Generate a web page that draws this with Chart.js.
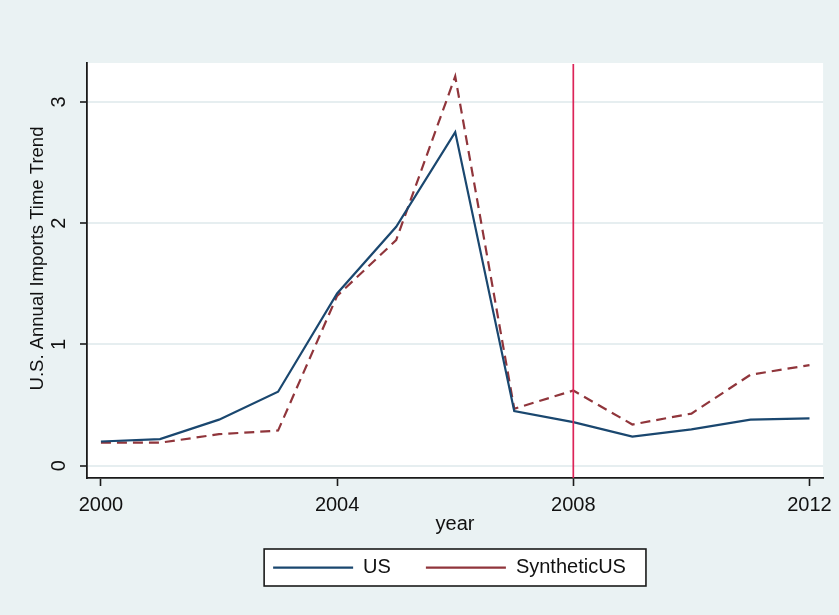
<!DOCTYPE html>
<html>
<head>
<meta charset="utf-8">
<script src="https://cdn.jsdelivr.net/npm/chart.js@4/dist/chart.umd.min.js"></script>
<style>
  html, body { margin: 0; padding: 0; background: #eaf2f3; }
  #wrap { width: 839px; height: 615px; }
</style>
</head>
<body>
<div id="wrap"><canvas id="c" width="839" height="615"></canvas></div>
<script>
// ---- data ----
const years = [2000, 2001, 2002, 2003, 2004, 2005, 2006, 2007, 2008, 2009, 2010, 2011, 2012];
const usValues = [0.20, 0.22, 0.38, 0.61, 1.42, 1.97, 2.75, 0.45, 0.36, 0.24, 0.30, 0.38, 0.39];
const syntheticValues = [0.19, 0.19, 0.26, 0.29, 1.40, 1.86, 3.21, 0.47, 0.62, 0.34, 0.43, 0.75, 0.83];
const seriesNames = ['US', 'SyntheticUS'];
const xTickValues = [2000, 2004, 2008, 2012];
const yTickValues = [0, 1, 2, 3];
const treatmentYear = 2008;
const xTitle = 'year';
const yTitle = 'U.S. Annual Imports Time Trend';

const FONT = "'Liberation Sans', Arial, sans-serif";
const TEXT = '#111111';
const BG = '#eaf2f3';

const decor = {
  id: 'decor',
  afterLayout(chart) {
    const lg = chart.legend, ca = chart.chartArea;
    if (!lg) return;
    const targetCx = (ca.left + ca.right) / 2 - 5.5;
    const dx = targetCx - (lg.left + lg.right) / 2;
    lg.left += dx; lg.right += dx;
    const p = lg.options.labels.padding;
    const fs = lg.options.labels.font.size;
    const dy = (567.7 - p - fs / 2) - lg.top;
    lg.top += dy; lg.bottom += dy;
  },
  beforeDraw(chart) {
    const ctx = chart.ctx, ca = chart.chartArea;
    ctx.save();
    ctx.fillStyle = BG;
    ctx.fillRect(0, 0, chart.width, chart.height);
    ctx.fillStyle = '#ffffff';
    ctx.fillRect(ca.left, ca.top, ca.right - ca.left, ca.bottom - ca.top);
    const hb = chart.legend && chart.legend.legendHitBoxes;
    if (hb && hb.length) {
      const fs = chart.legend.options.labels.font.size;
      const last = hb[hb.length - 1];
      const l = hb[0].left - 9, r = last.left + last.width + 20;
      const cy = hb[0].top + fs / 2;
      const t = cy - 18.7, b = cy + 18.3;
      ctx.fillStyle = '#ffffff';
      ctx.fillRect(l, t, r - l, b - t);
      ctx.strokeStyle = '#1a1a1a';
      ctx.lineWidth = 1.6;
      ctx.strokeRect(l, t, r - l, b - t);
    }
    ctx.restore();
  },
  afterDatasetsDraw(chart) {
    const ctx = chart.ctx, ca = chart.chartArea;
    const x = chart.scales.x.getPixelForValue(treatmentYear);
    ctx.save();
    ctx.strokeStyle = '#dc2458';
    ctx.lineWidth = 1.7;
    ctx.beginPath();
    ctx.moveTo(x, ca.top + 1);
    ctx.lineTo(x, ca.bottom);
    ctx.stroke();
    ctx.restore();
  },
  afterDraw(chart) {
    // y-axis title, placed where the reference has it (slightly above the axis centre)
    const ctx = chart.ctx, ca = chart.chartArea;
    ctx.save();
    ctx.translate(38, (ca.top + ca.bottom) / 2 - 12);
    ctx.rotate(-Math.PI / 2);
    ctx.fillStyle = TEXT;
    ctx.font = "18.5px " + FONT;
    ctx.textAlign = 'center';
    ctx.textBaseline = 'middle';
    ctx.fillText(yTitle, 0, 0);
    ctx.restore();
  }
};

new Chart(document.getElementById('c'), {
  type: 'line',
  data: {
    datasets: [
      {
        label: seriesNames[0],
        data: years.map((yr, i) => ({ x: yr, y: usValues[i] })),
        borderColor: '#1a476f',
        backgroundColor: '#1a476f',
        borderWidth: 2.2,
        pointRadius: 0,
        tension: 0,
        fill: false
      },
      {
        label: seriesNames[1],
        data: years.map((yr, i) => ({ x: yr, y: syntheticValues[i] })),
        borderColor: '#90353b',
        backgroundColor: '#90353b',
        borderWidth: 2.2,
        borderDash: [10, 6],
        pointRadius: 0,
        tension: 0,
        fill: false
      }
    ]
  },
  options: {
    responsive: false,
    animation: false,
    devicePixelRatio: 1,
    layout: { padding: { top: 63, right: 14, left: 0, bottom: 12 } },
    plugins: {
      tooltip: { enabled: false },
      legend: {
        position: 'bottom',
        align: 'center',
        labels: {
          usePointStyle: true,
          pointStyle: 'line',
          pointStyleWidth: 80,
          padding: 35,
          color: TEXT,
          font: { family: FONT, size: 20 }
        }
      }
    },
    scales: {
      x: {
        type: 'linear',
        min: 1999.764,
        max: 2012.23,
        offset: false,
        afterBuildTicks: (s) => { s.ticks = xTickValues.map(v => ({ value: v })); },
        afterFit: (s) => { s.height = 60; },
        ticks: {
          padding: 7,
          maxRotation: 0,
          minRotation: 0,
          color: TEXT,
          font: { family: FONT, size: 20 },
          callback: (v) => String(v)
        },
        grid: {
          drawOnChartArea: false,
          drawTicks: true,
          tickLength: 8,
          tickColor: '#1a1a1a',
          tickWidth: 1.6
        },
        border: { display: true, color: '#1a1a1a', width: 1.8 },
        title: {
          display: true,
          text: xTitle,
          color: TEXT,
          font: { family: FONT, size: 20 },
          padding: { top: 0, bottom: 2 }
        }
      },
      y: {
        type: 'linear',
        min: -0.101,
        max: 3.32,
        afterBuildTicks: (s) => { s.ticks = yTickValues.map(v => ({ value: v })); },
        afterFit: (s) => { s.width = 87; },
        ticks: {
          padding: 15,
          minRotation: 90,
          maxRotation: 90,
          crossAlign: 'center',
          color: TEXT,
          font: { family: FONT, size: 20 },
          callback: (v) => String(v)
        },
        grid: {
          drawOnChartArea: true,
          drawTicks: true,
          tickLength: 7,
          color: '#e6eef0',
          lineWidth: 2,
          tickColor: '#1a1a1a',
          tickWidth: 1.6
        },
        border: { display: true, color: '#1a1a1a', width: 1.8 },
        title: { display: false }
      }
    }
  },
  plugins: [decor]
});
</script>
</body>
</html>
